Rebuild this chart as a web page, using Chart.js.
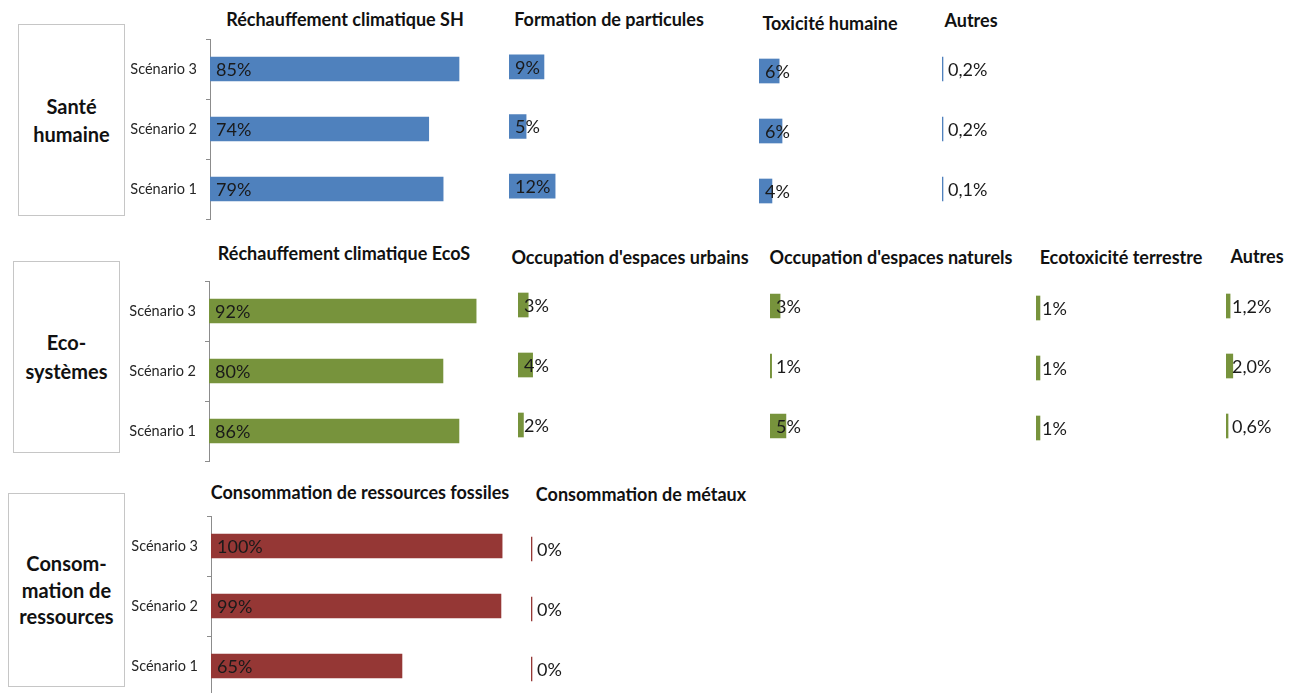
<!DOCTYPE html>
<html>
<head>
<meta charset="utf-8">
<script src="https://cdn.jsdelivr.net/npm/chart.js@4.4.1/dist/chart.umd.min.js"></script>
<style>
  html, body { margin: 0; padding: 0; background: #ffffff; }
  body { width: 1299px; height: 693px; position: relative; overflow: hidden; font-family: 'Lato', 'DejaVu Sans', sans-serif; }
  .cv { position: absolute; }
  .title { position: absolute; transform: translate(-50%, -50%); white-space: nowrap; font-weight: bold; font-size: 18px; color: #111; }
  .box { position: absolute; border: 1px solid #c6c6c6; box-sizing: border-box; display: flex; align-items: center; justify-content: center; text-align: center; font-weight: bold; font-size: 20px; color: #111; }
</style>
</head>
<body>
<script>
// ---------- DATA (order top to bottom: Scénario 3, 2, 1) ----------
const scenarios = ['Scénario 3', 'Scénario 2', 'Scénario 1'];

const groupLabels = ['Santé<br>humaine', 'Eco-<br>systèmes', 'Consom-<br>mation de<br>ressources'];

const titlesSante = ['Réchauffement climatique SH', 'Formation de particules', 'Toxicité humaine', 'Autres'];
const titlesEco = ['Réchauffement climatique EcoS', "Occupation d'espaces urbains", "Occupation d'espaces naturels", 'Ecotoxicité terrestre', 'Autres'];
const titlesRes = ['Consommation de ressources fossiles', 'Consommation de métaux'];

const rechauffementSH   = [84.7, 74.4, 79.3];
const formationPart     = [9.4, 4.6, 12.4];
const toxiciteHumaine   = [5.6, 6.4, 3.6];
const autresSH          = [0.2, 0.2, 0.1];

const rechauffementEcoS = [91.8, 80.4, 85.9];
const occupationUrbains = [3.0, 4.3, 1.6];
const occupationNaturels= [3.1, 0.5, 4.9];
const ecotoxTerrestre   = [1.1, 1.1, 1.1];
const autresEcoS        = [1.2, 2.0, 0.6];

const ressourcesFossiles= [99.7, 99.3, 65.4];
const metaux            = [0.1, 0.1, 0.1];

// ---------- STYLE ----------
const BLUE = '#4F81BD', GREEN = '#77933C', RED = '#953735';
const AXIS_GREY = '#8c8c8c';
Chart.defaults.font.family = "'Lato', 'DejaVu Sans', sans-serif";

const valueLabels = {
  id: 'valueLabels',
  afterDatasetsDraw(chart, args, opts) {
    const ctx = chart.ctx;
    const meta = chart.getDatasetMeta(0);
    const data = chart.data.datasets[0].data;
    const x0 = chart.scales.x.getPixelForValue(0);
    ctx.save();
    ctx.font = opts.font;
    ctx.fillStyle = opts.color;
    ctx.textAlign = 'left';
    ctx.textBaseline = 'middle';
    meta.data.forEach((bar, i) => {
      const v = data[i];
      const txt = opts.decimals ? v.toFixed(opts.decimals).replace('.', ',') + '%' : Math.round(v) + '%';
      ctx.fillText(txt, x0 + opts.offset, bar.y + 1);
    });
    ctx.restore();
  }
};

const PAD = 22, RIGHT = 70, AXISW = 100;

function makeChart(c) {
  const axisW = c.axis ? AXISW : 0;
  const areaW = c.max * c.ppu;
  const w = Math.round(axisW + areaW + RIGHT);
  const h = Math.round(c.bottom - c.top + 2 * PAD);
  const left = c.left - axisW;
  const top = c.top - PAD;
  const cv = document.createElement('canvas');
  cv.className = 'cv';
  cv.width = w; cv.height = h;
  cv.style.left = left + 'px'; cv.style.top = top + 'px';
  cv.style.width = w + 'px'; cv.style.height = h + 'px';
  document.body.appendChild(cv);
  new Chart(cv, {
    type: 'bar',
    data: {
      labels: scenarios,
      datasets: [{ data: c.data, backgroundColor: c.color, borderWidth: 0, barThickness: 24, minBarLength: 1 }]
    },
    options: {
      indexAxis: 'y',
      responsive: false,
      animation: false,
      events: [],
      layout: { padding: { left: 0, right: w - axisW - areaW, top: PAD, bottom: PAD } },
      scales: {
        x: { display: false, min: 0, max: c.max },
        y: c.axis ? {
          display: true,
          afterFit: s => { s.width = AXISW; },
          ticks: { color: '#262626', font: { size: 14.5 }, padding: 9 },
          grid: { drawOnChartArea: false, drawTicks: true, tickLength: 4, color: AXIS_GREY, offset: true },
          border: { display: true, color: AXIS_GREY, width: 1 }
        } : { display: false }
      },
      plugins: {
        legend: { display: false },
        tooltip: { enabled: false },
        valueLabels: { font: "18px 'Lato', 'DejaVu Sans', sans-serif", color: '#1a1a1a', offset: 6, decimals: c.decimals || 0 }
      }
    },
    plugins: [valueLabels]
  });
}

function addTitle(text, cx, cy) {
  const d = document.createElement('div');
  d.className = 'title';
  d.textContent = text;
  d.style.left = cx + 'px'; d.style.top = cy + 'px';
  document.body.appendChild(d);
}
function addBox(html, x, y, w, h, lh) {
  const d = document.createElement('div');
  d.className = 'box';
  d.innerHTML = html;
  d.style.left = x + 'px'; d.style.top = y + 'px';
  d.style.width = w + 'px'; d.style.height = h + 'px';
  d.style.lineHeight = lh + 'px';
  document.body.appendChild(d);
}

// Group boxes
addBox(groupLabels[0], 18, 24, 107, 192, 28);
addBox(groupLabels[1], 13, 261, 107, 192, 29);
addBox(groupLabels[2], 8, 493, 117, 194, 26.5);

// Titles
addTitle(titlesSante[0], 345, 19);
addTitle(titlesSante[1], 609, 19);
addTitle(titlesSante[2], 830, 23);
addTitle(titlesSante[3], 971, 20);
addTitle(titlesEco[0], 344, 253);
addTitle(titlesEco[1], 630, 257);
addTitle(titlesEco[2], 891, 257);
addTitle(titlesEco[3], 1121, 257);
addTitle(titlesEco[4], 1257, 256);
addTitle(titlesRes[0], 360, 492);
addTitle(titlesRes[1], 641, 494);

// Charts
makeChart({ data: rechauffementSH,   color: BLUE,  left: 210, top: 39,  bottom: 219, ppu: 2.94, max: 100, axis: true });
makeChart({ data: formationPart,     color: BLUE,  left: 509, top: 37,  bottom: 216, ppu: 3.72, max: 20 });
makeChart({ data: toxiciteHumaine,   color: BLUE,  left: 759, top: 41,  bottom: 221, ppu: 3.6,  max: 20 });
makeChart({ data: autresSH,          color: BLUE,  left: 942, top: 38.5,bottom: 218.5, ppu: 3.5, max: 5, decimals: 1 });

makeChart({ data: rechauffementEcoS, color: GREEN, left: 209, top: 281, bottom: 461, ppu: 2.91, max: 100, axis: true });
makeChart({ data: occupationUrbains, color: GREEN, left: 518, top: 275, bottom: 455, ppu: 3.4,  max: 10 });
makeChart({ data: occupationNaturels,color: GREEN, left: 770, top: 276, bottom: 456, ppu: 3.25, max: 10 });
makeChart({ data: ecotoxTerrestre,   color: GREEN, left: 1036, top: 277.5, bottom: 457.5, ppu: 3.6, max: 10 });
makeChart({ data: autresEcoS,        color: GREEN, left: 1226, top: 276, bottom: 456, ppu: 3.4, max: 5, decimals: 1 });

makeChart({ data: ressourcesFossiles,color: RED,   left: 211, top: 516, bottom: 696, ppu: 2.92, max: 100, axis: true });
makeChart({ data: metaux,            color: RED,   left: 531, top: 518.5, bottom: 698.5, ppu: 3.5, max: 10 });
</script>
</body>
</html>
